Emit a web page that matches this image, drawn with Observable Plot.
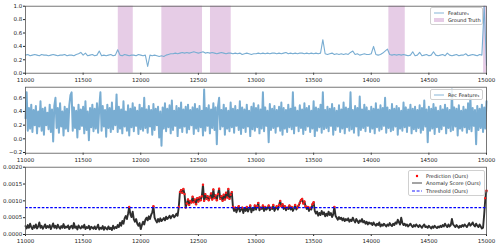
<!DOCTYPE html>
<html><head><meta charset="utf-8">
<script src="https://cdn.jsdelivr.net/npm/d3@7"></script>
<script src="https://cdn.jsdelivr.net/npm/@observablehq/plot@0.6"></script>
<style>
html,body{margin:0;padding:0;background:#fff;}
#wrap{position:relative;width:498px;height:247px;font-family:"DejaVu Sans",sans-serif;}
#wrap svg{display:block;}
.leg{position:absolute;background:rgba(255,255,255,0.85);border:0.8px solid #d0d0d0;border-radius:2px;font-size:5px;color:#222;box-sizing:border-box;padding:1px 2px 0 3px;}
.row{display:flex;align-items:center;height:7.6px;white-space:nowrap;}
.sw{display:inline-block;width:10px;margin-right:4px;flex:none;}
</style></head>
<body><div id="wrap"></div>
<script>
// x axis
const xTicks = [11000,11500,12000,12500,13000,13500,14000,14500,15000];
const x0 = 11000;

// Panel 1: Feature_1 (step 20)
const feature1 = [
0.27,0.28,0.26,0.27,0.28,0.27,0.26,0.28,0.27,0.27,
0.26,0.27,0.28,0.27,0.26,0.27,0.27,0.28,0.26,0.27,
0.27,0.26,0.28,0.29,0.31,0.27,0.30,0.26,0.27,0.28,
0.26,0.27,0.33,0.26,0.27,0.26,0.27,0.28,0.26,0.27,
0.35,0.27,0.26,0.28,0.27,0.26,0.27,0.27,0.26,0.28,
0.27,0.26,0.27,0.10,0.27,0.26,0.27,0.26,0.25,0.26,
0.25,0.27,0.28,0.29,0.29,0.30,0.29,0.30,0.31,0.30,
0.31,0.30,0.31,0.32,0.31,0.30,0.31,0.32,0.30,0.31,
0.30,0.31,0.30,0.29,0.30,0.31,0.30,0.29,0.30,0.30,
0.29,0.30,0.29,0.30,0.28,0.29,0.30,0.29,0.28,0.29,
0.29,0.30,0.29,0.30,0.29,0.30,0.29,0.30,0.30,0.29,
0.30,0.29,0.30,0.31,0.29,0.30,0.29,0.30,0.29,0.30,
0.30,0.29,0.30,0.29,0.30,0.29,0.30,0.29,0.30,0.50,
0.29,0.28,0.29,0.30,0.28,0.29,0.28,0.29,0.28,0.29,
0.28,0.31,0.33,0.28,0.29,0.27,0.28,0.29,0.28,0.28,
0.29,0.40,0.28,0.27,0.28,0.30,0.33,0.36,0.28,0.27,
0.28,0.27,0.28,0.27,0.28,0.27,0.26,0.27,0.32,0.26,
0.27,0.31,0.26,0.27,0.28,0.26,0.27,0.32,0.27,0.26,
0.27,0.28,0.26,0.30,0.27,0.26,0.27,0.28,0.26,0.27,
0.27,0.29,0.26,0.27,0.28,0.27,0.26,0.28,0.27,1.00,
0.12];
const gtStart = [11805,12183,12605,14153,14975];
const gtEnd   = [11935,12536,12785,14295,15000];

// Panel 2: Rec Feature_1 (step 10)
const recFeature1 = [
0.30,0.68,0.12,0.45,0.15,0.50,0.10,0.42,0.20,0.48,0.08,0.40,0.18,0.55,0.12,0.44,0.06,0.46,0.20,0.38,
0.14,0.50,0.10,0.43,-0.04,0.48,0.60,0.16,0.45,0.09,0.52,0.18,0.40,0.05,0.47,0.15,0.44,0.11,0.49,0.64,
0.68,0.12,0.46,0.16,0.41,0.02,0.50,0.14,0.43,0.19,0.47,0.08,0.55,0.13,0.40,-0.02,0.45,0.17,0.50,0.11,
0.44,0.15,0.52,0.09,0.46,0.68,0.12,0.48,0.18,0.42,0.03,0.50,0.16,0.45,0.10,0.53,0.14,0.41,0.20,0.65,
0.10,0.47,0.15,0.43,0.08,0.55,0.18,0.40,0.12,0.49,0.05,0.44,0.17,0.52,0.11,0.46,0.19,0.41,0.07,0.50,
0.14,0.45,0.12,0.60,0.16,0.43,0.09,0.48,0.18,0.42,0.06,0.51,0.13,0.44,0.20,0.47,0.02,0.40,-0.10,0.46,
0.15,0.52,0.11,0.44,0.17,0.49,0.08,0.56,0.13,0.41,0.19,0.48,0.04,0.45,0.16,0.53,0.10,0.43,0.18,0.47,
0.09,0.50,0.14,0.42,0.20,0.46,0.07,0.51,0.15,0.44,0.11,0.48,0.17,0.41,0.05,0.72,0.12,0.45,0.19,0.49,
0.08,0.43,0.16,0.52,0.13,0.46,-0.08,0.47,0.60,0.14,0.42,0.18,0.50,0.06,0.45,0.15,0.41,0.11,0.53,0.17,
0.44,0.09,0.48,0.19,0.42,0.13,0.55,0.07,0.46,0.16,0.43,0.10,0.50,0.18,0.41,0.04,0.47,0.14,0.52,0.12,
0.45,0.17,0.49,0.08,0.43,0.15,0.68,0.11,0.46,0.19,0.41,-0.05,0.51,0.13,0.44,0.16,0.48,0.09,0.42,0.18,
0.47,0.12,0.53,0.06,0.45,0.15,0.42,0.10,0.50,0.17,0.44,0.14,0.68,0.08,0.46,0.19,0.41,0.11,0.49,0.16,
0.43,0.07,0.52,0.13,0.45,0.18,0.48,0.10,0.41,0.15,0.55,0.04,0.46,0.12,0.44,0.17,0.50,0.09,0.68,0.14,
0.42,0.16,0.47,0.11,0.44,0.19,0.51,0.06,0.45,0.13,0.41,0.18,0.49,0.10,0.43,0.15,0.53,0.08,0.46,0.17,
0.44,0.12,0.68,0.14,0.42,0.09,0.48,0.18,0.45,0.05,0.62,0.13,0.43,0.16,0.50,0.11,0.46,0.19,0.41,0.10,
0.47,0.15,0.44,0.08,0.52,0.17,0.43,0.12,0.49,0.14,0.45,0.19,0.60,0.09,0.46,0.16,0.42,0.11,0.51,0.13,
0.44,0.18,0.48,0.06,0.45,0.15,0.41,0.12,0.53,0.17,0.46,0.10,0.43,0.19,0.50,0.08,0.44,0.14,0.47,0.11,
0.42,0.16,0.49,0.09,0.45,0.13,0.56,0.18,0.43,-0.05,0.47,0.12,0.44,0.15,0.51,0.07,0.46,0.17,0.41,0.10,
0.48,0.14,0.43,0.19,0.50,0.08,0.45,0.16,0.42,0.11,0.72,0.13,0.46,0.18,0.44,0.05,0.49,0.15,0.41,0.12,
0.47,0.17,0.43,0.09,0.52,0.14,0.62,0.11,0.45,0.19,0.42,-0.08,0.48,0.13,0.44,0.16,0.50,0.10,0.46,0.15,
0.55];

// Panel 3: Anomaly score (Ours), in units of 1e-4 (step 10)
const scoreE4 = [
2.5,1.8,2.8,2.0,3.2,2.2,1.6,2.6,2.0,3.0,1.8,2.4,3.6,2.0,2.6,1.7,2.3,3.0,1.9,2.5,
2.1,2.8,1.6,2.4,3.3,2.0,2.6,1.8,2.9,2.2,1.7,2.5,2.0,3.1,1.9,2.4,2.1,2.7,1.6,2.3,
2.6,1.8,3.4,2.0,2.4,1.5,2.7,2.1,1.8,2.5,2.0,2.9,1.6,2.2,1.9,2.6,1.5,2.3,2.0,1.7,
2.4,1.6,2.1,2.9,1.5,2.0,1.7,2.5,1.4,2.2,1.8,1.5,2.4,1.6,2.0,1.3,2.6,1.7,2.2,1.9,
2.8,2.2,3.5,2.6,4.0,3.2,4.8,5.5,4.6,6.2,8.2,6.0,5.2,6.8,4.5,3.8,4.6,3.2,2.6,3.4,
1.6,2.8,3.8,3.0,4.4,5.0,4.2,5.4,4.6,5.8,6.6,8.4,5.0,4.2,3.6,4.6,3.8,4.8,4.0,4.4,
4.9,4.2,5.3,4.6,5.0,5.6,4.8,5.4,5.8,5.1,5.5,6.2,5.6,8.2,12.6,13.2,12.4,13.5,12.0,8.0,
9.2,10.4,8.8,10.0,9.5,11.2,9.6,10.4,9.0,10.8,9.8,11.0,10.2,11.4,14.8,10.0,12.0,10.6,11.4,10.2,
11.0,12.2,10.4,13.4,10.8,11.6,10.2,12.0,13.6,10.6,11.4,10.0,11.8,10.4,12.4,11.0,13.5,10.6,11.8,12.6,
8.2,7.0,8.0,6.6,7.6,8.4,6.8,7.4,8.0,6.4,7.8,7.0,8.2,6.8,7.6,8.6,6.6,7.8,7.2,8.6,
7.4,8.4,9.4,7.2,8.0,7.6,8.6,7.0,8.2,7.4,7.8,8.6,7.2,8.0,7.6,8.8,7.0,7.8,8.4,7.4,
8.8,10.0,8.4,9.0,7.6,8.4,7.2,8.0,7.6,8.6,7.4,8.2,7.0,7.8,8.8,7.4,8.0,8.6,9.4,10.2,
10.6,9.2,9.8,8.4,7.6,8.2,7.0,8.0,7.4,9.0,9.6,7.0,6.2,6.8,5.6,6.4,5.8,7.0,6.0,6.6,
5.4,6.2,5.6,6.8,5.8,6.4,5.2,6.0,8.2,5.6,5.0,4.4,5.2,4.6,5.0,4.2,4.8,4.0,4.6,4.2,
4.8,3.8,4.4,4.0,5.0,4.2,3.6,4.6,4.0,3.4,4.2,3.8,4.6,3.6,4.0,3.2,3.8,3.0,3.6,3.2,
3.4,2.8,3.6,3.0,2.6,3.2,2.8,3.6,2.4,3.0,2.6,3.2,2.8,2.4,3.0,2.6,3.4,2.8,2.5,3.2,
2.8,3.6,3.2,4.4,3.6,3.0,5.0,3.4,2.8,3.2,2.6,3.0,2.4,2.8,3.2,2.6,2.2,2.8,2.4,3.0,
2.6,2.2,2.8,2.4,2.0,2.6,3.0,2.2,2.4,2.0,2.6,2.2,1.8,2.4,2.0,2.6,2.2,1.9,2.4,2.1,
2.6,2.2,2.8,2.4,3.2,2.6,2.2,3.0,2.4,2.8,4.6,3.0,2.6,2.2,2.8,2.4,2.0,2.6,2.2,2.8,
2.4,3.0,2.6,2.2,2.8,3.4,2.6,3.0,3.6,2.8,2.4,3.2,2.6,2.2,3.0,2.4,1.8,2.0,6.0,10.8,
13.0];
const thresholdE4 = 8;

const blue = "#79add2";
const frameColor = "#555";
const W = 498;
const common = {
  width: W, marginLeft: 25, marginRight: 12,
  style: {fontSize: "5.5px", fontFamily: "DejaVu Sans, sans-serif", color: "#222", background: "#fff", overflow: "visible"}
};
const xAxis = {domain: [11000, 15000], ticks: xTicks, tickFormat: d => String(d), tickSize: 2, tickPadding: 2.4, label: null};

const d1 = feature1.map((v, i) => ({x: x0 + 20 * i, y: v}));
const d2 = recFeature1.map((v, i) => ({x: x0 + 10 * i, y: v}));
const d3s = scoreE4.map((v, i) => ({x: x0 + 10 * i, y: v / 1e4}));
const gt = gtStart.map((s, i) => ({s, e: gtEnd[i]}));

const p1 = Plot.plot({
  ...common, height: 82, marginTop: 5.7, marginBottom: 9.3,
  x: xAxis,
  y: {domain: [0, 1], ticks: [0,0.2,0.4,0.6,0.8,1.0], tickFormat: d3.format(".1f"), tickSize: 2, tickPadding: 1.2, label: null},
  marks: [
    Plot.rect(gt, {x1: "s", x2: "e", fill: "#e6cce6"}),
    Plot.line(d1, {x: "x", y: "y", stroke: blue, strokeWidth: 1.1}),
    Plot.frame({stroke: frameColor, strokeWidth: 0.8})
  ]
});

const p2 = Plot.plot({
  ...common, height: 80, marginTop: 4.7, marginBottom: 9.3,
  x: xAxis,
  y: {domain: [-0.21, 0.755], ticks: [-0.2,0,0.2,0.4,0.6], tickFormat: d3.format(".1f"), tickSize: 2, tickPadding: 1.2, label: null},
  marks: [
    Plot.line(d2, {x: "x", y: "y", stroke: blue, strokeWidth: 2}),
    Plot.frame({stroke: frameColor, strokeWidth: 0.8})
  ]
});

const p3 = Plot.plot({
  ...common, height: 85, marginTop: 4.7, marginBottom: 13,
  x: xAxis,
  y: {domain: [0, 0.002], ticks: [0,0.0005,0.001,0.0015,0.002], tickFormat: d3.format(".4f"), tickSize: 2, tickPadding: 1.2, label: null},
  marks: [
    Plot.line(d3s, {x: "x", y: "y", stroke: "#2e2e2e", strokeWidth: 1.9}),
    Plot.dot(d3s.filter(d => d.y * 1e4 >= thresholdE4), {x: "x", y: "y", r: 1.2, fill: "#ff1a1a", stroke: "none"}),
    Plot.ruleY([thresholdE4 / 1e4], {stroke: "#0000ff", strokeWidth: 1.1, strokeDasharray: "2.6,1.6"}),
    Plot.frame({stroke: frameColor, strokeWidth: 0.8})
  ]
});

const wrap = document.getElementById("wrap");
wrap.append(p1, p2, p3);

function legend(left, top, width, rows) {
  const div = document.createElement("div");
  div.className = "leg";
  div.style.left = left + "px";
  div.style.top = top + "px";
  div.style.width = width + "px";
  for (const r of rows) {
    const row = document.createElement("div");
    row.className = "row";
    const sw = document.createElement("span");
    sw.className = "sw";
    sw.innerHTML = r.sw;
    const t = document.createElement("span");
    t.textContent = r.label;
    row.append(sw, t);
    div.append(row);
  }
  wrap.append(div);
}
const lineSw = c => `<svg width="10" height="4"><line x1="0" x2="10" y1="2" y2="2" stroke="${c}" stroke-width="0.9"/></svg>`;
legend(430, 7, 53, [
  {label: "Feature\u2081", sw: lineSw(blue)},
  {label: "Ground Truth", sw: `<svg width="10" height="4"><rect x="0" y="0" width="10" height="4" fill="#e6cce6"/></svg>`}
]);
legend(430, 89, 53, [
  {label: "Rec Feature\u2081", sw: lineSw(blue)}
]);
legend(408, 170, 77, [
  {label: "Prediction (Ours)", sw: `<svg width="10" height="4"><circle cx="5" cy="2" r="1.2" fill="red"/></svg>`},
  {label: "Anomaly Score (Ours)", sw: lineSw("#333")},
  {label: "Threshold (Ours)", sw: `<svg width="10" height="4"><line x1="0" x2="10" y1="2" y2="2" stroke="#0000ff" stroke-width="0.9" stroke-dasharray="3,1.6"/></svg>`}
]);
</script>
</body></html>
